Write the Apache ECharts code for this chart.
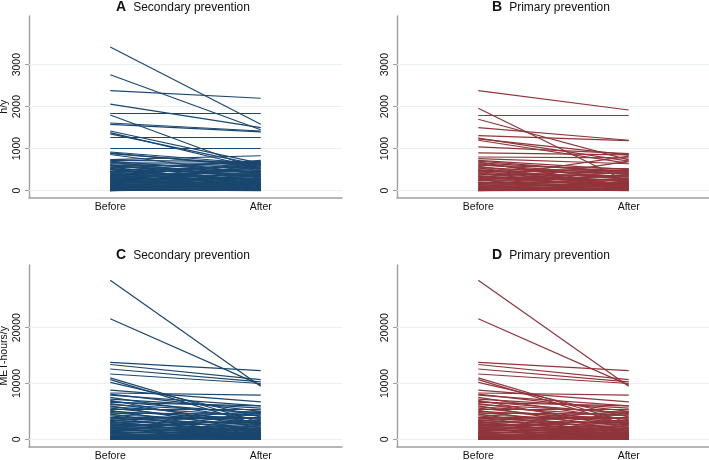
<!DOCTYPE html>
<html>
<head>
<meta charset="utf-8">
<title>Before / After</title>
<script src="https://cdn.jsdelivr.net/npm/echarts@6/dist/echarts.min.js"></script>
<style>
    html, body { margin: 0; padding: 0; background: #fff; }
    #main { width: 709px; height: 460px; }
</style>
</head>
<body>
<div id="main"></div>
<script>
// x positions: 1 = Before, 2 = After
var xLabels = ['Before', 'After'];

// A: h/y, secondary prevention
var hoursSecBefore = [3420, 2760, 2380, 2060, 1850, 1800, 1610, 1580, 1420, 1380, 1350, 1280, 1020, 920, 900, 880, 860, 740, 720, 700,
    680, 660, 640, 620, 600, 580, 560, 540, 520, 500,
    490, 470, 450, 440, 420, 410, 400, 380, 370, 360,
    350, 340, 330, 320, 310, 300, 290, 280, 270, 260,
    250, 240, 230, 220, 210, 200, 190, 180, 170, 160,
    150, 140, 130, 120, 110, 100, 95, 90, 80, 70,
    60, 50, 45, 40, 30, 25, 20, 15, 10, 5,
    0, 0, 0, 0, 600, 530, 460, 330, 250, 150];
var hoursSecAfter = [1580, 1450, 2200, 1500, 1850, 480, 1420, 1400, 650, 520, 600, 1280, 1010, 640, 560, 600, 380, 830, 690, 420,
    300, 650, 520, 200, 610, 450, 150, 680, 380, 560,
    250, 470, 100, 600, 330, 520, 200, 420, 80, 290,
    640, 360, 180, 480, 240, 300, 120, 560, 260, 400,
    60, 210, 330, 150, 450, 100, 280, 200, 40, 350,
    170, 90, 240, 130, 30, 180, 400, 100, 60, 150,
    20, 90, 300, 10, 50, 120, 0, 200, 30, 70,
    0, 100, 40, 250, 330, 90, 720, 680, 520, 620];

// B: h/y, primary prevention
var hoursPrimBefore = [2380, 1960, 1800, 1700, 1500, 1310, 1250, 1230, 1200, 1040, 900, 800, 760, 720, 700, 680, 300, 150,
    660, 640, 620, 600, 580, 560, 540, 520, 500, 480,
    470, 450, 440, 420, 400, 390, 370, 350, 340, 320,
    290, 270, 260, 240, 230, 210, 200, 190, 170, 160,
    140, 130, 110, 100, 90, 70, 60, 50, 40, 30,
    20, 10, 5, 0, 0];
var hoursPrimAfter = [1920, 200, 1800, 730, 1200, 1190, 700, 850, 650, 880, 850, 780, 640, 500, 420, 120, 820, 700,
    450, 260, 380, 520, 100, 330, 60, 470, 200, 410,
    290, 140, 520, 30, 350, 230, 480, 170, 90, 300,
    250, 160, 440, 60, 350, 200, 10, 120, 270, 380,
    80, 180, 40, 300, 150, 20, 100, 220, 0, 60,
    130, 30, 0, 80, 10];

// C and D: MET-hours/y (the two lower panels show the same values in the source)
var metBefore = [28500, 21600, 13800, 13400, 12600, 11700, 11000, 10700, 10200, 8800, 8300, 8100, 7900, 7500, 7200, 7000, 6800, 6600, 6400, 6200,
    6000, 5800, 5600, 5400, 5200, 5000, 4800, 4700, 4500, 4400,
    4200, 4000, 3900, 3800, 3600, 3500, 3400, 3200, 3100, 3000,
    2900, 2800, 2700, 2600, 2500, 2400, 2300, 2200, 2100, 2000,
    1900, 1800, 1700, 1600, 1500, 1400, 1300, 1200, 1100, 1000,
    900, 800, 700, 600, 500, 450, 400, 350, 300, 250,
    200, 150, 100, 50, 0, 0, 0, 3300, 1200];
var metAfter = [9500, 9700, 12300, 10700, 10300, 10000, 3000, 2500, 4000, 6700, 7900, 5000, 6000, 3500, 5600, 2000, 4600, 6000, 3000, 4800,
    1500, 4200, 2800, 5400, 1000, 3600, 2400, 4500, 800, 3200,
    1800, 4000, 600, 2600, 3800, 1200, 2200, 400, 3000, 1600,
    4400, 900, 2000, 200, 2800, 1400, 3400, 700, 1800, 100,
    2400, 1100, 500, 1500, 2000, 300, 900, 1200, 50, 1700,
    600, 1000, 200, 800, 400, 0, 1300, 150, 500, 100,
    700, 30, 300, 0, 200, 50, 600, 5000, 4800];

var hoursTicks = [0, 1000, 2000, 3000];
var metTicks = [0, 10000, 20000];

var blue = '#1a476f', maroon = '#90353b';
var axisGrey = '#9f9f9f', gridColor = '#e9f1f3';
var font = '"Liberation Sans", Arial, Helvetica, sans-serif';

var panels = [
    {letter: 'A', title: 'Secondary prevention', before: hoursSecBefore, after: hoursSecAfter, color: blue,
        ticks: hoursTicks, yMin: -160, yMax: 4160, name: 'h/y',
        grid: {left: 29, top: 16, width: 313, height: 181.3}, tx: 183, ty: 7.5},
    {letter: 'B', title: 'Primary prevention', before: hoursPrimBefore, after: hoursPrimAfter, color: maroon,
        ticks: hoursTicks, yMin: -160, yMax: 4160, name: '',
        grid: {left: 397, top: 16, width: 313, height: 181.3}, tx: 551, ty: 7.5},
    {letter: 'C', title: 'Secondary prevention', before: metBefore, after: metAfter, color: blue,
        ticks: metTicks, yMin: -1330, yMax: 31240, name: 'MET-hours/y',
        grid: {left: 29, top: 265, width: 313, height: 181.7}, tx: 183, ty: 255.5},
    {letter: 'D', title: 'Primary prevention', before: metBefore, after: metAfter, color: maroon,
        ticks: metTicks, yMin: -1330, yMax: 31240, name: '',
        grid: {left: 397, top: 265, width: 313, height: 181.7}, tx: 551, ty: 255.5}
];

var myChart = echarts.init(document.getElementById('main'), null, {renderer: 'canvas'});

var option = {
    animation: false,
    backgroundColor: '#fff',
    grid: [], xAxis: [], yAxis: [], series: [], graphic: []
};

panels.forEach(function (p, i) {
    option.grid.push(Object.assign({outerBoundsMode: 'none', containLabel: false}, p.grid));
    option.xAxis.push({
        type: 'value', gridIndex: i, min: 0.46, max: 2.54,
        axisLine: {show: true, onZero: false, lineStyle: {color: axisGrey, width: 1.6}},
        axisTick: {show: false},
        splitLine: {show: false},
        axisLabel: {
            customValues: [1, 2], margin: 4,
            fontFamily: font, fontSize: 10.5, color: '#111',
            formatter: function (v) { return xLabels[Math.round(v) - 1]; }
        }
    });
    option.yAxis.push({
        type: 'value', gridIndex: i, min: p.yMin, max: p.yMax,
        name: p.name, nameLocation: 'middle', nameGap: 19,
        nameTextStyle: {fontFamily: font, fontSize: 10.5, color: '#111'},
        axisLine: {show: true, onZero: false, lineStyle: {color: axisGrey, width: 1.4}},
        axisTick: {show: true, customValues: p.ticks, length: 4, lineStyle: {color: axisGrey, width: 1}},
        splitLine: {show: false},
        axisLabel: {
            customValues: p.ticks, rotate: 90, margin: 6,
            fontFamily: font, fontSize: 10.5, color: '#111',
            formatter: function (v) { return String(v); }
        }
    });
    // light horizontal grid lines at the labelled ticks
    option.series.push({
        type: 'line', xAxisIndex: i, yAxisIndex: i, data: [], z: 1, silent: true,
        markLine: {
            silent: true, z: 1, symbol: ['none', 'none'], label: {show: false},
            lineStyle: {color: gridColor, width: 1, type: 'solid'},
            emphasis: {disabled: true},
            data: p.ticks.map(function (t) { return {yAxis: t}; })
        }
    });
    // one straight segment per person, Before -> After
    option.series.push({
        type: 'lines', coordinateSystem: 'cartesian2d', xAxisIndex: i, yAxisIndex: i,
        polyline: false, z: 10, silent: true,
        lineStyle: {color: p.color, width: 1.2, opacity: 1, curveness: 0},
        data: p.before.map(function (b, k) {
            return {coords: [[1, b], [2, p.after[k]]]};
        })
    });
    option.graphic.push({
        type: 'text', x: p.tx, y: p.ty, silent: true,
        style: {
            text: '{l|' + p.letter + '}' + p.title,
            textAlign: 'center', textVerticalAlign: 'middle',
            fontFamily: font, fontSize: 12, fill: '#111',
            rich: {l: {fontFamily: font, fontSize: 14, fontWeight: 'bold', fill: '#111', padding: [0, 7, 0, 0]}}
        }
    });
});

myChart.setOption(option);
</script>
</body>
</html>
